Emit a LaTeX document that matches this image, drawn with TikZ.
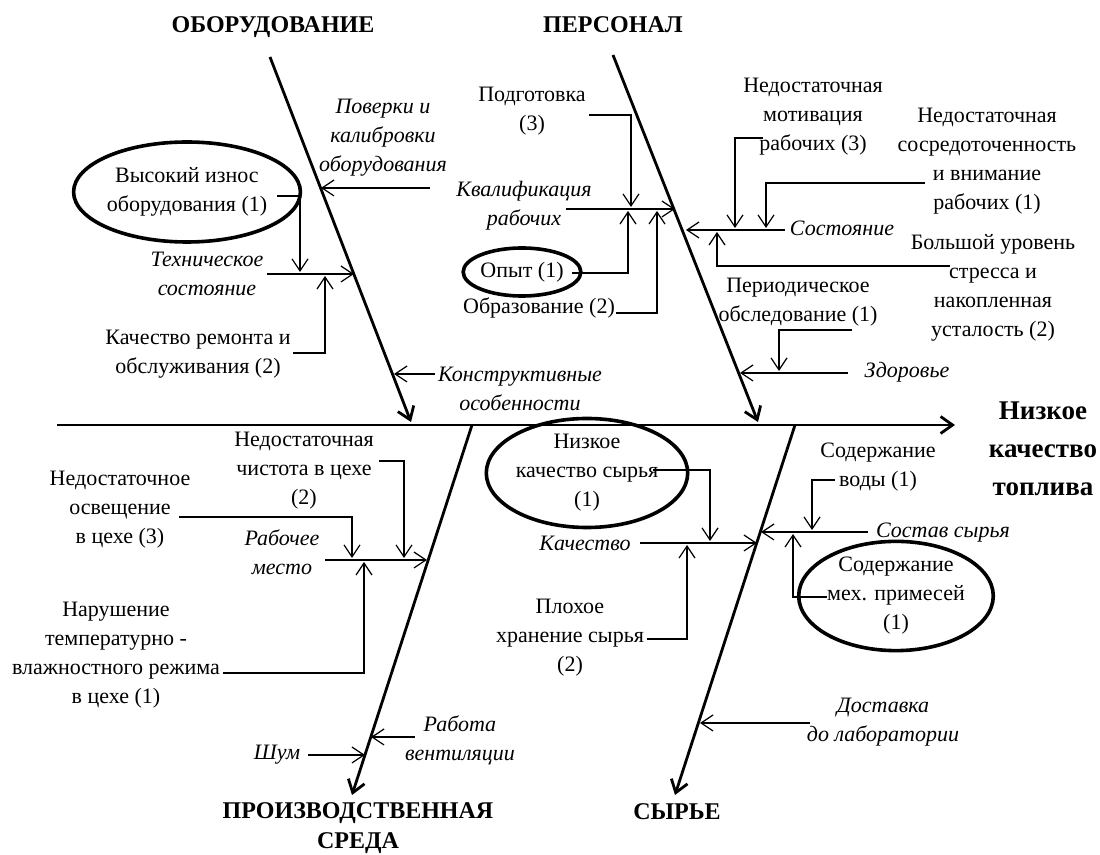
\documentclass[tikz,border=0pt]{standalone}
\usepackage{fontspec}
\setmainfont{Liberation Serif}
\usetikzlibrary{
    arrows.meta,      % For open arrow tips
    shapes.geometric  % For the ellipses
}

\begin{document}
\begin{tikzpicture}[
    x=0.5pt, y=-0.5pt, % one unit = one pixel of the sketch
    font=\fontsize{11}{14.5}\selectfont,
    bone_style/.style={line width=1.4pt, -{Straight Barb[length=6pt,width=8.5pt]}},
    twig_style/.style={line width=0.6pt, -{Straight Barb[length=6pt,width=8pt]}},
    cause_style/.style={align=center, inner sep=0pt},
    factor_style/.style={align=center, inner sep=0pt, font=\fontsize{11}{14.5}\selectfont\itshape},
    cat_style/.style={align=center, inner sep=0pt, font=\fontsize{12}{15}\selectfont\bfseries},
    oval_style/.style={ellipse, draw, line width=1.8pt, align=center, inner sep=0pt}
]
    % Fix the frame
    \useasboundingbox (0,0) rectangle (1100,855);

    % Spine and effect
    \coordinate (S0) at (57,425);
    \coordinate (S1) at (955,425);
    \draw[bone_style] (S0) -- (S1);
    \node[cat_style, font=\fontsize{13.5}{19}\selectfont\bfseries] (effect) at (1043,449) {Низкое\\качество\\топлива};

    % Main bones
    \coordinate (EqTop) at (270,57);  \coordinate (EqTip) at (411,422);
    \coordinate (PeTop) at (613,55);  \coordinate (PeTip) at (758,422);
    \coordinate (EnTop) at (472,425); \coordinate (EnTip) at (352,795);
    \coordinate (RmTop) at (795,425); \coordinate (RmTip) at (675,795);
    \draw[bone_style] (EqTop) -- (EqTip);
    \draw[bone_style] (PeTop) -- (PeTip);
    \draw[bone_style] (EnTop) -- (EnTip);
    \draw[bone_style] (RmTop) -- (RmTip);
    \node[cat_style] (equip) at (273,27) {ОБОРУДОВАНИЕ};
    \node[cat_style] (staff) at (613,25) {ПЕРСОНАЛ};
    \node[cat_style] (envir) at (358,828) {ПРОИЗВОДСТВЕННАЯ\\СРЕДА};
    \node[cat_style] (rawmat) at (677,812) {СЫРЬЕ};

    % ОБОРУДОВАНИЕ
    \node[factor_style] (calib) at (383,138) {Поверки и\\калибровки\\оборудования};
    \coordinate (calib_a) at (430,188); \coordinate (calib_b) at (321,188);
    \draw[twig_style] (calib_a) -- (calib_b);

    \node[factor_style] (techstate) at (207,274) {Техническое\\состояние};
    \coordinate (tech_a) at (267,274); \coordinate (tech_b) at (354,274);
    \draw[twig_style] (tech_a) -- (tech_b);

    \node[oval_style, minimum width=102pt, minimum height=50pt] (wear) at (187,192) {Высокий износ\\оборудования (1)};
    \coordinate (wear_a) at (277,196); \coordinate (wear_b) at (300,272);
    \draw[twig_style] (wear_a) -| (wear_b);

    \node[cause_style] (repair) at (198,354) {Качество ремонта и\\обслуживания (2)};
    \coordinate (repair_a) at (293,353); \coordinate (repair_b) at (325,276);
    \draw[twig_style] (repair_a) -| (repair_b);

    \node[factor_style] (design) at (520,389) {Конструктивные\\особенности};
    \coordinate (design_a) at (435,374); \coordinate (design_b) at (394,374);
    \draw[twig_style] (design_a) -- (design_b);

    % ПЕРСОНАЛ
    \node[factor_style] (qualif) at (524,206) {Квалификация\\рабочих};
    \coordinate (qualif_a) at (566,209); \coordinate (qualif_b) at (675,209);
    \draw[twig_style] (qualif_a) -- (qualif_b);

    \node[cause_style] (training) at (532,111) {Подготовка\\(3)};
    \coordinate (training_a) at (589,115); \coordinate (training_b) at (631,207);
    \draw[twig_style] (training_a) -| (training_b);

    \node[oval_style, minimum width=50pt, minimum height=24pt] (exper) at (522,272) {Опыт (1)};
    \coordinate (exper_a) at (572,273); \coordinate (exper_b) at (628,211);
    \draw[twig_style] (exper_a) -| (exper_b);

    \node[cause_style] (educ) at (539,308) {Образование (2)};
    \coordinate (educ_a) at (616,313); \coordinate (educ_b) at (657,211);
    \draw[twig_style] (educ_a) -| (educ_b);

    \node[factor_style] (cond) at (842,228) {Состояние};
    \coordinate (cond_a) at (785,230); \coordinate (cond_b) at (686,230);
    \draw[twig_style] (cond_a) -- (cond_b);

    \node[cause_style] (motiv) at (813,117) {Недостаточная\\мотивация\\рабочих (3)};
    \coordinate (motiv_a) at (763,138); \coordinate (motiv_b) at (735,228);
    \draw[twig_style] (motiv_a) -| (motiv_b);

    \node[cause_style] (focus) at (987,161) {Недостаточная\\сосредоточенность\\и внимание\\рабочих (1)};
    \coordinate (focus_a) at (925,183); \coordinate (focus_b) at (766,228);
    \draw[twig_style] (focus_a) -| (focus_b);

    \node[cause_style] (stress) at (993,288) {Большой уровень\\стресса и\\накопленная\\усталость (2)};
    \coordinate (stress_a) at (950,266); \coordinate (stress_b) at (717,232);
    \draw[twig_style] (stress_a) -| (stress_b);

    \node[factor_style] (health) at (907,372) {Здоровье};
    \coordinate (health_a) at (848,373); \coordinate (health_b) at (740,373);
    \draw[twig_style] (health_a) -- (health_b);

    \node[cause_style] (checkup) at (798,302) {Периодическое\\обследование (1)};
    \coordinate (checkup_a) at (852,330); \coordinate (checkup_b) at (779,371);
    \draw[twig_style] (checkup_a) -| (checkup_b);

    % ПРОИЗВОДСТВЕННАЯ СРЕДА
    \node[factor_style] (workplace) at (282,552) {Рабочее\\место};
    \coordinate (workplace_a) at (325,560); \coordinate (workplace_b) at (427,560);
    \draw[twig_style] (workplace_a) -- (workplace_b);

    \node[cause_style] (clean) at (304,471) {Недостаточная\\чистота в цехе\\(2)};
    \coordinate (clean_a) at (379,461); \coordinate (clean_b) at (404,558);
    \draw[twig_style] (clean_a) -| (clean_b);

    \node[cause_style] (light) at (120,510) {Недостаточное\\освещение\\в цехе (3)};
    \coordinate (light_a) at (179,517); \coordinate (light_b) at (352,558);
    \draw[twig_style] (light_a) -| (light_b);

    \node[cause_style] (climate) at (116,655) {Нарушение\\температурно -\\влажностного режима\\в цехе (1)};
    \coordinate (climate_a) at (223,673); \coordinate (climate_b) at (364,562);
    \draw[twig_style] (climate_a) -| (climate_b);

    \node[factor_style] (vent) at (460,740) {Работа\\вентиляции};
    \coordinate (vent_a) at (415,737); \coordinate (vent_b) at (371,737);
    \draw[twig_style] (vent_a) -- (vent_b);

    \node[factor_style] (noise) at (277,755) {Шум};
    \coordinate (noise_a) at (308,755); \coordinate (noise_b) at (365,755);
    \draw[twig_style] (noise_a) -- (noise_b);

    % СЫРЬЕ
    \node[factor_style] (quality) at (585,543) {Качество};
    \coordinate (quality_a) at (640,543); \coordinate (quality_b) at (757,543);
    \draw[twig_style] (quality_a) -- (quality_b);

    \node[oval_style, minimum width=97pt, minimum height=48pt] (lowraw) at (587,473) {Низкое\\качество сырья\\(1)};
    \coordinate (lowraw_a) at (653,470); \coordinate (lowraw_b) at (710,541);
    \draw[twig_style] (lowraw_a) -| (lowraw_b);

    \node[cause_style] (storage) at (570,638) {Плохое\\хранение сырья\\(2)};
    \coordinate (storage_a) at (647,639); \coordinate (storage_b) at (687,545);
    \draw[twig_style] (storage_a) -| (storage_b);

    \node[factor_style] (compos) at (943,533) {Состав сырья};
    \coordinate (compos_a) at (868,532); \coordinate (compos_b) at (761,532);
    \draw[twig_style] (compos_a) -- (compos_b);

    \node[cause_style] (water) at (878,467) {Содержание\\воды (1)};
    \coordinate (water_a) at (835,480); \coordinate (water_b) at (812,530);
    \draw[twig_style] (water_a) -| (water_b);

    \node[oval_style, minimum width=84pt, minimum height=49pt] (impur) at (896,596) {Содержание\\мех. примесей\\(1)};
    \coordinate (impur_a) at (827,597); \coordinate (impur_b) at (793,534);
    \draw[twig_style] (impur_a) -| (impur_b);

    \node[factor_style] (deliv) at (883,722) {Доставка\\до лаборатории};
    \coordinate (deliv_a) at (810,723); \coordinate (deliv_b) at (700,723);
    \draw[twig_style] (deliv_a) -- (deliv_b);

\end{tikzpicture}
\end{document}
